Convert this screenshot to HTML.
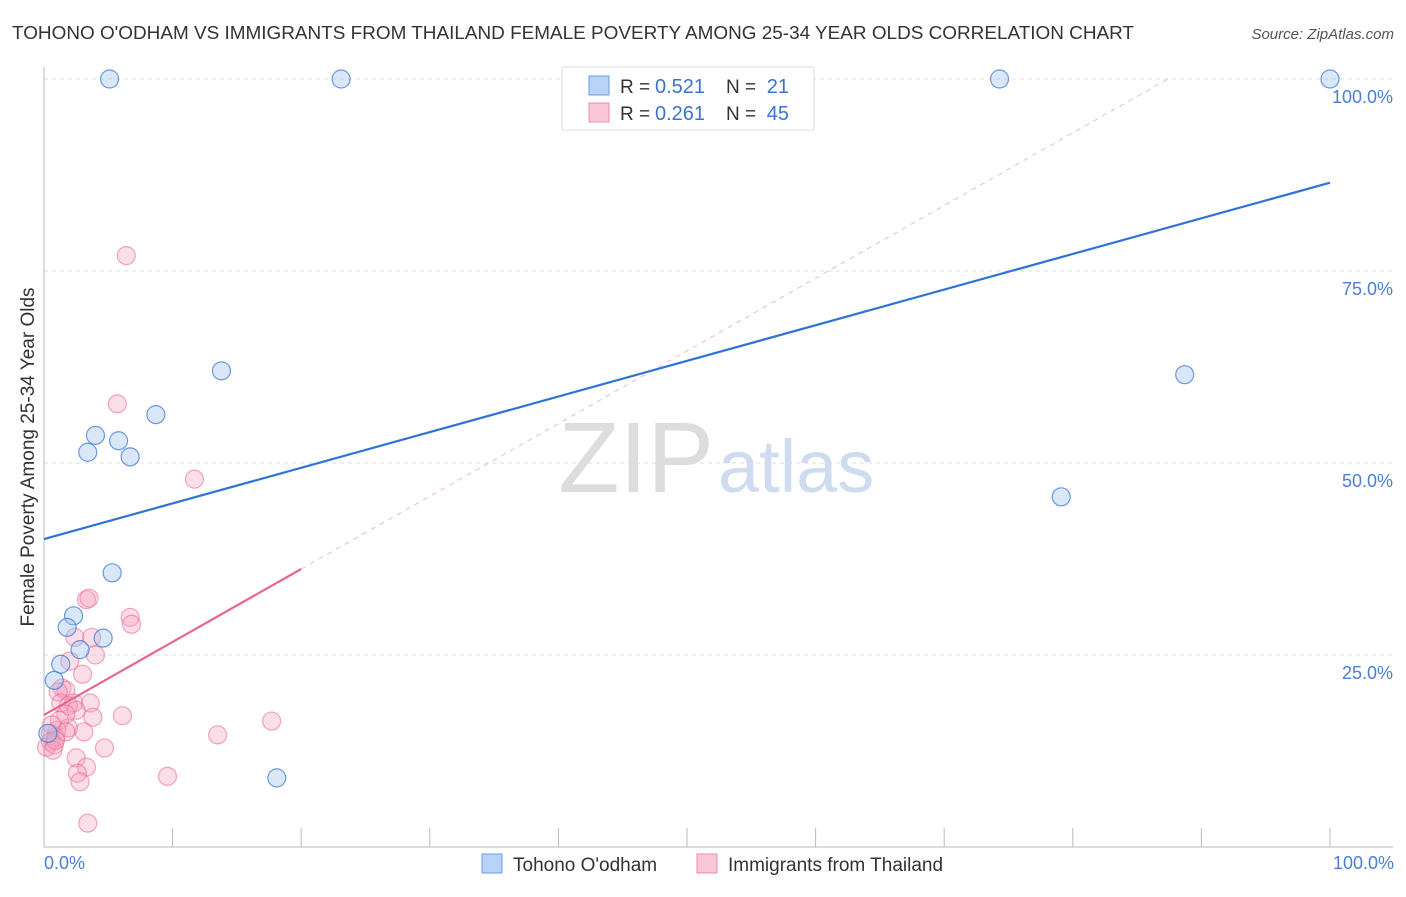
<!DOCTYPE html>
<html><head><meta charset="utf-8"><style>
body{margin:0;background:#fff;font-family:"Liberation Sans",sans-serif}
svg text{font-family:"Liberation Sans",sans-serif}
</style></head><body>
<svg width="1406" height="892">
<text x="12" y="39" font-size="18" fill="#333" textLength="1122" lengthAdjust="spacingAndGlyphs">TOHONO O'ODHAM VS IMMIGRANTS FROM THAILAND FEMALE POVERTY AMONG 25-34 YEAR OLDS CORRELATION CHART</text>
<text x="1394" y="39" font-size="15" fill="#555" font-style="italic" text-anchor="end">Source: ZipAtlas.com</text>
<text x="714" y="492" font-size="100" fill="#ddd" text-anchor="end" font-family="Liberation Serif">ZIP</text>
<text x="718" y="492" font-size="74" fill="#cfdcef">atlas</text>
<g id="grid"></g>
<g id="marks"></g>
<text transform="translate(34,457) rotate(-90)" font-size="19" fill="#333" text-anchor="middle">Female Poverty Among 25-34 Year Olds</text>
<text x="44" y="869" font-size="18" fill="#4a7fd4">0.0%</text>
<text x="1394" y="869" font-size="18" fill="#4a7fd4" text-anchor="end">100.0%</text>
<g>
<rect x="562" y="67" width="252" height="63" fill="#fff" stroke="#ddd"/>
<rect x="589" y="76" width="20" height="19" fill="#b8d3f5" stroke="#6b9be0"/>
<rect x="589" y="103" width="20" height="19" fill="#f9c7d6" stroke="#ec8aa9"/>
<text x="620" y="93" font-size="19" fill="#333">R =</text>
<text x="655" y="93" font-size="20" fill="#3a74d0">0.521</text>
<text x="726" y="93" font-size="19" fill="#333">N =</text>
<text x="789" y="93" font-size="20" fill="#3a74d0" text-anchor="end">21</text>
<text x="620" y="120" font-size="19" fill="#333">R =</text>
<text x="655" y="120" font-size="20" fill="#3a74d0">0.261</text>
<text x="726" y="120" font-size="19" fill="#333">N =</text>
<text x="789" y="120" font-size="20" fill="#3a74d0" text-anchor="end">45</text>
</g>
<g>
<rect x="482" y="854" width="20" height="19" fill="#b8d3f5" stroke="#6b9be0"/>
<text x="513" y="871" font-size="19" fill="#333">Tohono O'odham</text>
<rect x="697" y="854" width="20" height="19" fill="#f9c7d6" stroke="#ec8aa9"/>
<text x="728" y="871" font-size="19" fill="#333">Immigrants from Thailand</text>
</g>
</svg>
<script>
const yTicks=[25,50,75,100];
const yTickLabels=["25.0%","50.0%","75.0%","100.0%"];
const xTicks=[0,10,20,30,40,50,60,70,80,90,100];
const blueX=[5.1,23.1,74.3,100,13.8,88.7,8.7,4.0,5.8,3.4,6.7,79.1,5.3,2.3,1.8,4.6,2.8,1.3,0.8,18.1,0.3];
const blueY=[100,100,100,100,62.0,61.5,56.3,53.6,52.9,51.4,50.8,45.6,35.7,30.1,28.6,27.2,25.7,23.8,21.7,9.0,14.8];
const pinkX=[6.4,5.7,11.7,3.3,3.5,6.7,6.8,2.4,3.7,4.0,2.0,3.0,1.4,1.7,1.1,1.3,2.3,3.6,1.9,2.5,1.7,3.8,6.1,1.9,1.0,3.1,0.5,0.9,0.5,0.2,0.8,0.7,13.5,17.7,4.7,2.5,3.3,2.6,2.8,9.6,3.4,1.2,0.6,1.7,0.9];
const pinkY=[77.0,57.7,47.9,32.2,32.4,29.9,29.0,27.3,27.3,25.0,24.2,22.5,20.7,20.4,20.2,18.75,18.75,18.75,18.4,17.8,17.3,16.9,17.1,15.5,15.2,15.0,14.8,14.3,13.7,13.0,13.3,12.6,14.6,16.4,12.9,11.6,10.4,9.6,8.5,9.2,3.1,16.5,15.9,15.0,13.9];
const blueTrend=[[0,40.1],[100,86.5]];
const pinkTrend=[[0,17.2],[20,36.2]];
const pinkDash=[[20,36.2],[87.4,100]];
const NS="http://www.w3.org/2000/svg";
const sx=v=>44+v*12.86, sy=v=>847-v*7.68;
function mk(tag,attrs,parent){const e=document.createElementNS(NS,tag);for(const k in attrs)e.setAttribute(k,attrs[k]);parent.appendChild(e);return e;}
const grid=document.getElementById('grid'), marks=document.getElementById('marks');
yTicks.forEach((t,i)=>{
 const l=mk('line',{x1:44,x2:1393,y1:sy(t),y2:sy(t),stroke:'#ddd','stroke-dasharray':'4,4'},grid);
 
 
 const tx=mk('text',{x:1393,y:sy(t)+24,'font-size':18,fill:'#4a7fd4','text-anchor':'end'},grid);
 tx.textContent=yTickLabels[i];
 
 
});
const ax=mk('line',{x1:44,x2:1393,y1:847,y2:847,stroke:'#bbb'},grid);


const ay=mk('line',{x1:44,x2:44,y1:67,y2:847,stroke:'#bbb'},grid);


xTicks.forEach(t=>{
 const l=mk('line',{x1:sx(t),x2:sx(t),y1:828,y2:847,stroke:'#bbb'},grid);
 
 
});
function line(p,stroke,w,dash,name){
 const l=mk('line',{x1:sx(p[0][0]),y1:sy(p[0][1]),x2:sx(p[1][0]),y2:sy(p[1][1]),stroke:stroke,'stroke-width':w},marks);
 if(dash)l.setAttribute('stroke-dasharray',dash);
 
 
}
pinkX.forEach((x,i)=>{
 const c=mk('circle',{cx:sx(x),cy:sy(pinkY[i]),r:9,fill:'rgba(245,160,188,0.35)',stroke:'rgba(232,110,150,0.6)','stroke-width':1.2},marks);
 
 
});
blueX.forEach((x,i)=>{
 const c=mk('circle',{cx:sx(x),cy:sy(blueY[i]),r:9,fill:'rgba(160,195,240,0.4)',stroke:'rgba(70,130,215,0.8)','stroke-width':1.2},marks);
 
 
});
line(pinkDash,'#f3b8ca',1,'5,5','thailand-trend-extension');
line(blueTrend,'#2f73d4',2.2,null,'tohono-trend-line');
line(pinkTrend,'#e8678f',2.2,null,'thailand-trend-line');
</script>
</body></html>
